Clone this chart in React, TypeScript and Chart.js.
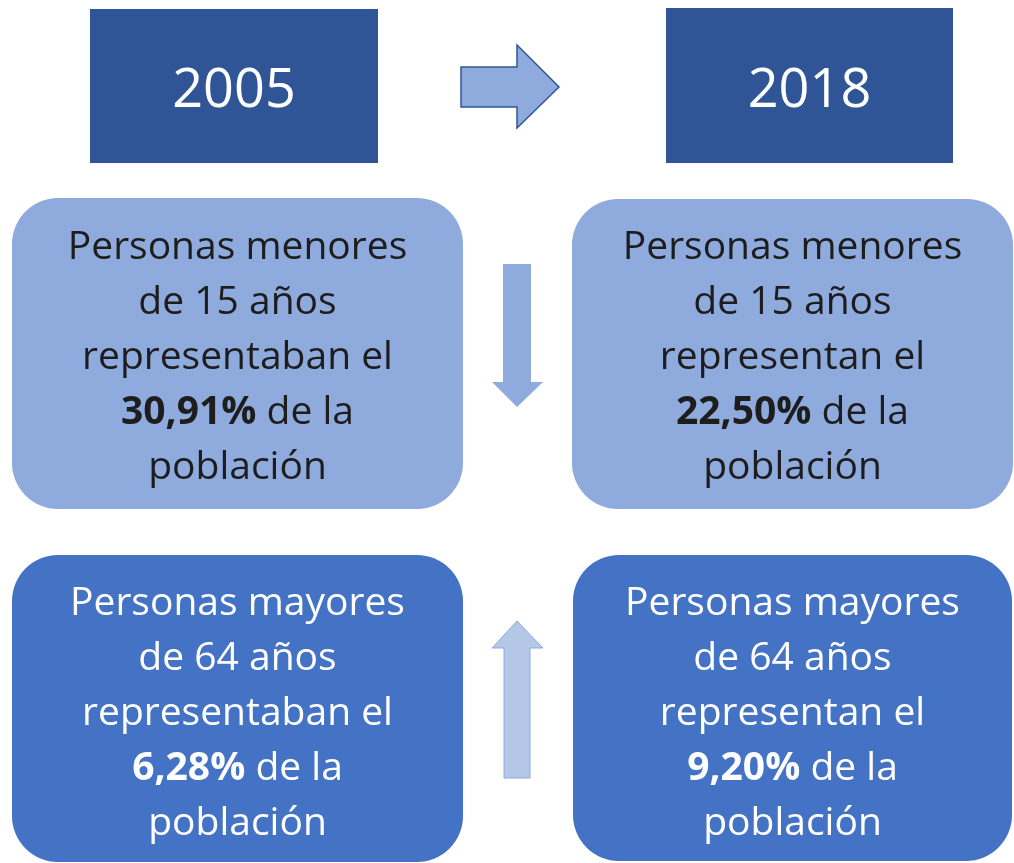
import { useEffect, useRef } from 'react';
import { Chart, registerables } from 'chart.js';

Chart.register(...registerables);

// ---- data ----
const years = ['2005', '2018'];
const youngShare = [30.91, 22.5];
const oldShare = [6.28, 9.2];
const verbs = ['representaban el', 'representan el'];
const youngHead = ['Personas menores', 'de 15 años'];
const oldHead = ['Personas mayores', 'de 64 años'];
const tail = ['de la', 'población'];

// ---- layout (pixel space of the hidden scales) ----
const W = 1014;
const H = 863;
const FONT = '"Open Sans", "Noto Sans", sans-serif';
const COLORS = {
  year: '#2F5597',
  young: '#8FAADC',
  old: '#4472C4',
  darkText: '#1d1d1d',
  lightText: '#ffffff',
  upFill: '#B4C7E7',
};
const yearBoxes = [
  { x0: 90, x1: 378, y0: 9, y1: 163 },
  { x0: 666, x1: 953, y0: 8, y1: 163 },
];
const youngBoxes = [
  { x0: 12, x1: 463, y0: 198, y1: 509 },
  { x0: 572, x1: 1013, y0: 199, y1: 509 },
];
const oldBoxes = [
  { x0: 12, x1: 463, y0: 555, y1: 862 },
  { x0: 573, x1: 1012, y0: 555, y1: 861 },
];
const youngBaselines = [259, 314, 369, 424, 479];
const oldBaselines = [615, 670, 725, 780, 835];

const fmt = (v: number) => v.toFixed(2).replace('.', ',') + '%';

type Seg = { t: string; b?: boolean };

const infographic = {
  id: 'infographic',
  afterDraw(chart: any) {
    const { ctx } = chart;
    const sx = chart.scales.x;
    const sy = chart.scales.y;
    const X = (v: number) => sx.getPixelForValue(v);
    const Y = (v: number) => sy.getPixelForValue(v);

    const rect = (b: any, fill: string, r: number) => {
      ctx.save();
      ctx.beginPath();
      ctx.roundRect(X(b.x0), Y(b.y0), X(b.x1) - X(b.x0), Y(b.y1) - Y(b.y0), r);
      ctx.fillStyle = fill;
      ctx.fill();
      ctx.restore();
    };

    const line = (segs: Seg[], cx: number, base: number, size: number, color: string) => {
      ctx.save();
      ctx.textBaseline = 'alphabetic';
      ctx.textAlign = 'left';
      ctx.fillStyle = color;
      const fontOf = (s: Seg) => `${s.b ? 'bold ' : ''}${size}px ${FONT}`;
      let total = 0;
      const widths = segs.map((s) => {
        ctx.font = fontOf(s);
        const w = ctx.measureText(s.t).width;
        total += w;
        return w;
      });
      let xx = X(cx) - total / 2;
      segs.forEach((s, i) => {
        ctx.font = fontOf(s);
        ctx.fillText(s.t, xx, Y(base));
        xx += widths[i];
      });
      ctx.restore();
    };

    const poly = (pts: number[][], fill: string, stroke?: string, lw = 1) => {
      ctx.save();
      ctx.beginPath();
      pts.forEach(([px, py], i) => (i ? ctx.lineTo(X(px), Y(py)) : ctx.moveTo(X(px), Y(py))));
      ctx.closePath();
      ctx.fillStyle = fill;
      ctx.fill();
      if (stroke) {
        ctx.strokeStyle = stroke;
        ctx.lineWidth = lw;
        ctx.lineJoin = 'miter';
        ctx.stroke();
      }
      ctx.restore();
    };

    // year boxes
    yearBoxes.forEach((b, i) => {
      rect(b, COLORS.year, 0);
      line([{ t: years[i] }], (b.x0 + b.x1) / 2, 107, 54, COLORS.lightText);
    });

    // young boxes
    youngBoxes.forEach((b, i) => {
      rect(b, COLORS.young, 46);
      const cx = (b.x0 + b.x1) / 2;
      const rows: Seg[][] = [
        [{ t: youngHead[0] }],
        [{ t: youngHead[1] }],
        [{ t: verbs[i] }],
        [{ t: fmt(youngShare[i]), b: true }, { t: ' ' + tail[0] }],
        [{ t: tail[1] }],
      ];
      rows.forEach((r, k) => line(r, cx, youngBaselines[k], 39, COLORS.darkText));
    });

    // old boxes
    oldBoxes.forEach((b, i) => {
      rect(b, COLORS.old, 46);
      const cx = (b.x0 + b.x1) / 2;
      const rows: Seg[][] = [
        [{ t: oldHead[0] }],
        [{ t: oldHead[1] }],
        [{ t: verbs[i] }],
        [{ t: fmt(oldShare[i]), b: true }, { t: ' ' + tail[0] }],
        [{ t: tail[1] }],
      ];
      rows.forEach((r, k) => line(r, cx, oldBaselines[k], 39, COLORS.lightText));
    });

    // right arrow (2005 -> 2018)
    poly(
      [
        [461, 67], [517, 67], [517, 45], [559, 87], [517, 128], [517, 107], [461, 107],
      ],
      COLORS.young,
      COLORS.year,
      1.5
    );
    // down arrow (young share fell)
    poly(
      [
        [503, 264], [531, 264], [531, 382], [543, 382], [517, 407], [492, 382], [503, 382],
      ],
      COLORS.young
    );
    // up arrow (old share rose)
    poly(
      [
        [504, 778], [530, 778], [530, 648], [543, 648], [517, 621], [492, 648], [504, 648],
      ],
      COLORS.upFill,
      COLORS.young,
      1
    );
  },
};

export default function App() {
  const ref = useRef<HTMLCanvasElement | null>(null);
  useEffect(() => {
    if (!ref.current) return;
    const chart = new Chart(ref.current, {
      type: 'scatter',
      data: { datasets: [] },
      options: {
        responsive: false,
        maintainAspectRatio: false,
        devicePixelRatio: 1,
        animation: false,
        layout: { padding: 0 },
        plugins: { legend: { display: false }, tooltip: { enabled: false } },
        scales: {
          x: { type: 'linear', min: 0, max: W, display: false },
          y: { type: 'linear', min: 0, max: H, reverse: true, display: false },
        },
      },
      plugins: [infographic],
    });
    return () => chart.destroy();
  }, []);
  return (
    <div style={{ position: 'absolute', left: 0, top: 0, width: W, height: H, background: '#fff' }}>
      <canvas ref={ref} width={W} height={H} style={{ display: 'block' }} />
    </div>
  );
}
